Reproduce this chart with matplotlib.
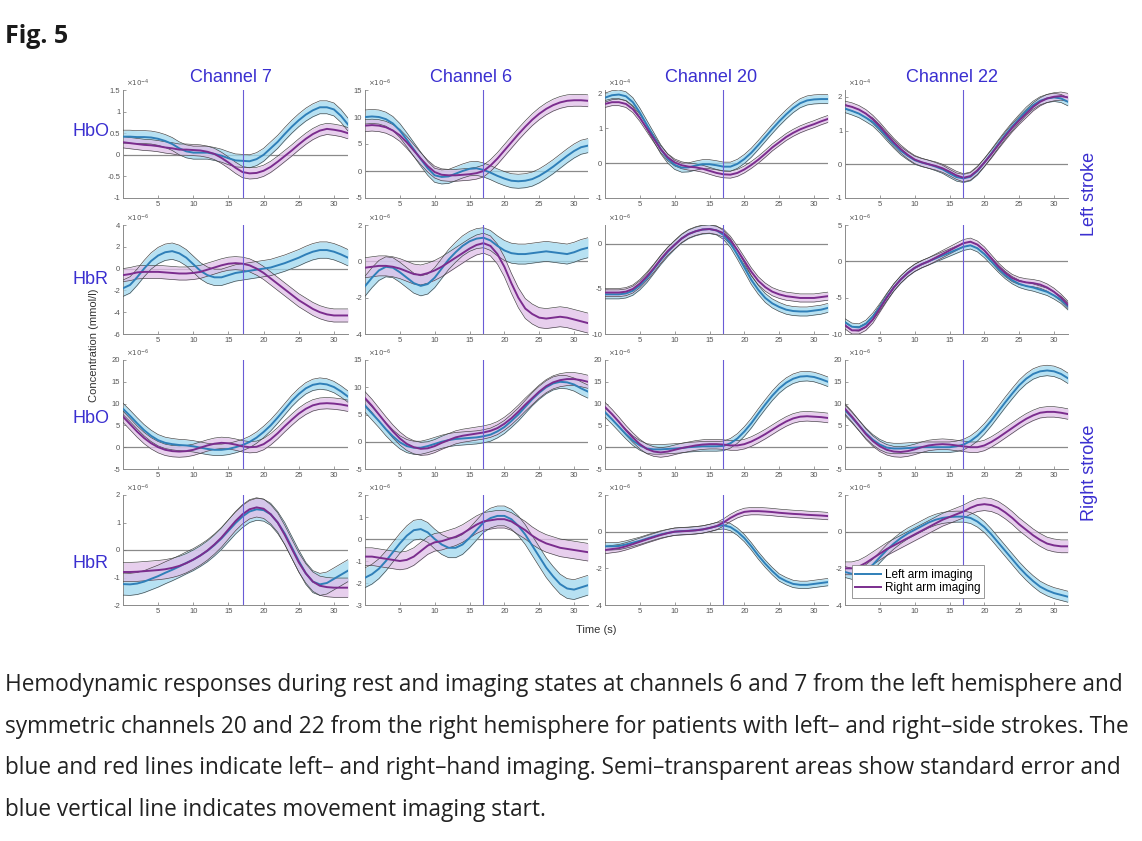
import matplotlib
matplotlib.use("Agg")
import matplotlib.pyplot as plt
import numpy as np

plt.rcParams["font.family"] = ["Liberation Sans", "DejaVu Sans"]
plt.rcParams["axes.unicode_minus"] = False

# time axis (s)
TIME = [0, 1, 2, 3, 4, 5, 6, 7, 8, 9, 10, 11, 12, 13, 14, 15, 16,
        17, 18, 19, 20, 21, 22, 23, 24, 25, 26, 27, 28, 29, 30, 31, 32]

CHANNELS = ["Channel 7", "Channel 6", "Channel 20", "Channel 22"]
ROW_LABELS = ["HbO", "HbR", "HbO", "HbR"]
LEGEND_LABELS = ["Left arm imaging", "Right arm imaging"]
ONSET = 17

# ---- left stroke, HbO (x1e-4 / x1e-6) ----
ls_hbo_ch7_left = [0.42, 0.42, 0.41, 0.41, 0.40, 0.37, 0.32, 0.25, 0.15, 0.08, 0.05, 0.05, 0.05, 0.02, -0.02, -0.08, -0.13,
                   -0.14, -0.15, -0.10, 0.00, 0.15, 0.30, 0.48, 0.65, 0.80, 0.93, 1.03, 1.10, 1.10, 1.05, 0.90, 0.70]
ls_hbo_ch7_right = [0.29, 0.27, 0.25, 0.23, 0.22, 0.20, 0.17, 0.15, 0.12, 0.12, 0.11, 0.10, 0.07, 0.02, -0.07, -0.18, -0.30,
                    -0.40, -0.43, -0.42, -0.37, -0.28, -0.16, -0.03, 0.10, 0.24, 0.37, 0.48, 0.56, 0.60, 0.58, 0.55, 0.50]
ls_hbo_ch6_left = [10.0, 10.1, 10.0, 9.6, 8.8, 7.5, 5.8, 4.0, 2.2, 0.5, -0.8, -1.1, -1.0, -0.5, 0.0, 0.4, 0.5,
                   0.2, -0.3, -0.9, -1.4, -1.8, -1.9, -1.8, -1.5, -0.9, -0.1, 0.8, 1.8, 2.8, 3.7, 4.4, 4.7]
ls_hbo_ch6_right = [8.4, 8.5, 8.4, 8.1, 7.5, 6.6, 5.3, 3.8, 2.3, 0.9, -0.2, -0.7, -0.8, -0.8, -0.7, -0.6, -0.4,
                    0.0, 1.0, 2.3, 3.8, 5.3, 6.8, 8.2, 9.5, 10.6, 11.5, 12.2, 12.7, 13.0, 13.1, 13.1, 13.0]
ls_hbo_ch20_left = [1.88, 1.95, 1.97, 1.92, 1.75, 1.45, 1.10, 0.75, 0.40, 0.13, -0.05, -0.13, -0.12, -0.07, -0.03, -0.03, -0.06,
                    -0.10, -0.10, -0.02, 0.12, 0.30, 0.52, 0.75, 0.98, 1.20, 1.40, 1.58, 1.72, 1.80, 1.83, 1.84, 1.84]
ls_hbo_ch20_right = [1.70, 1.75, 1.75, 1.70, 1.55, 1.30, 1.00, 0.70, 0.40, 0.17, 0.02, -0.06, -0.10, -0.12, -0.16, -0.22, -0.28,
                     -0.32, -0.33, -0.28, -0.18, -0.05, 0.10, 0.27, 0.45, 0.60, 0.75, 0.87, 0.97, 1.05, 1.12, 1.20, 1.27]
ls_hbo_ch22_left = [1.65, 1.58, 1.50, 1.38, 1.25, 1.05, 0.82, 0.60, 0.40, 0.25, 0.12, 0.05, 0.00, -0.07, -0.15, -0.27, -0.38,
                    -0.42, -0.37, -0.20, 0.05, 0.32, 0.60, 0.87, 1.12, 1.35, 1.57, 1.75, 1.88, 1.95, 1.98, 1.95, 1.85]
ls_hbo_ch22_right = [1.75, 1.70, 1.62, 1.50, 1.33, 1.12, 0.88, 0.65, 0.45, 0.28, 0.14, 0.06, 0.00, -0.05, -0.12, -0.22, -0.33,
                     -0.40, -0.35, -0.18, 0.05, 0.30, 0.57, 0.83, 1.08, 1.30, 1.50, 1.70, 1.85, 1.95, 2.00, 2.02, 1.98]

# ---- left stroke, HbR (x1e-6) ----
ls_hbr_ch7_left = [-1.8, -1.5, -0.8, 0.0, 0.7, 1.2, 1.5, 1.6, 1.4, 1.0, 0.4, -0.2, -0.6, -0.8, -0.8, -0.6, -0.4,
                   -0.3, -0.2, -0.1, 0.0, 0.1, 0.3, 0.5, 0.75, 1.0, 1.3, 1.55, 1.7, 1.7, 1.55, 1.3, 1.0]
ls_hbr_ch7_right = [-0.6, -0.5, -0.35, -0.3, -0.3, -0.3, -0.35, -0.4, -0.45, -0.45, -0.4, -0.3, -0.1, 0.1, 0.3, 0.45, 0.5,
                    0.45, 0.3, 0.0, -0.4, -0.9, -1.4, -1.9, -2.4, -2.9, -3.3, -3.7, -4.0, -4.2, -4.3, -4.3, -4.3]
ls_hbr_ch6_left = [-1.37, -0.9, -0.5, -0.3, -0.35, -0.6, -0.9, -1.2, -1.35, -1.25, -0.9, -0.4, 0.1, 0.5, 0.85, 1.1, 1.25,
                   1.3, 1.15, 0.85, 0.6, 0.45, 0.4, 0.4, 0.45, 0.5, 0.55, 0.5, 0.45, 0.4, 0.5, 0.65, 0.75]
ls_hbr_ch6_right = [-0.35, -0.3, -0.25, -0.25, -0.3, -0.4, -0.55, -0.7, -0.75, -0.65, -0.5, -0.3, -0.05, 0.2, 0.45, 0.7, 0.9,
                    1.0, 0.85, 0.4, -0.3, -1.2, -2.0, -2.6, -2.9, -3.1, -3.15, -3.1, -3.05, -3.1, -3.2, -3.3, -3.4]
ls_hbr_ch20_left = [-5.6, -5.6, -5.6, -5.5, -5.2, -4.6, -3.8, -2.8, -1.8, -0.9, -0.1, 0.6, 1.1, 1.4, 1.6, 1.65, 1.5,
                    1.0, 0.1, -1.2, -2.6, -4.0, -5.1, -6.0, -6.6, -7.0, -7.3, -7.45, -7.5, -7.5, -7.4, -7.3, -7.1]
ls_hbr_ch20_right = [-5.4, -5.4, -5.4, -5.3, -5.0, -4.4, -3.6, -2.7, -1.7, -0.8, -0.1, 0.6, 1.1, 1.4, 1.6, 1.65, 1.5,
                     1.2, 0.4, -0.7, -1.9, -3.1, -4.1, -4.8, -5.3, -5.6, -5.8, -5.9, -6.0, -6.0, -6.0, -5.9, -5.8]
ls_hbr_ch22_left = [-8.4, -9.0, -9.1, -8.6, -7.6, -6.3, -4.9, -3.6, -2.5, -1.6, -0.9, -0.4, 0.0, 0.4, 0.8, 1.2, 1.6,
                    2.0, 2.2, 1.8, 1.0, 0.0, -1.0, -1.9, -2.6, -3.1, -3.4, -3.6, -3.9, -4.2, -4.7, -5.3, -6.2]
ls_hbr_ch22_right = [-8.8, -9.5, -9.5, -9.0, -8.0, -6.5, -5.0, -3.6, -2.5, -1.6, -0.9, -0.4, 0.0, 0.5, 1.0, 1.5, 2.0,
                     2.5, 2.7, 2.3, 1.5, 0.4, -0.7, -1.6, -2.3, -2.7, -2.9, -3.0, -3.2, -3.6, -4.2, -5.0, -6.0]

# ---- right stroke, HbO (x1e-6) ----
rs_hbo_ch7_left = [8.8, 7.2, 5.5, 3.9, 2.6, 1.6, 1.0, 0.7, 0.5, 0.4, 0.2, -0.1, -0.4, -0.6, -0.6, -0.4, 0.0,
                   0.5, 1.2, 2.2, 3.5, 5.0, 6.8, 8.7, 10.6, 12.2, 13.5, 14.3, 14.6, 14.4, 13.8, 12.8, 11.6]
rs_hbo_ch7_right = [7.0, 5.3, 3.6, 2.1, 0.9, 0.0, -0.6, -0.9, -1.0, -0.9, -0.6, -0.1, 0.4, 0.8, 1.0, 0.9, 0.6,
                    0.2, 0.0, 0.1, 0.7, 1.8, 3.2, 4.8, 6.3, 7.7, 8.8, 9.6, 10.0, 10.1, 10.0, 9.8, 9.5]
rs_hbo_ch6_left = [6.6, 5.2, 3.8, 2.3, 1.0, -0.1, -0.8, -1.1, -1.1, -0.8, -0.4, 0.0, 0.3, 0.5, 0.6, 0.7, 0.8,
                   1.0, 1.3, 1.9, 2.7, 3.8, 5.0, 6.4, 7.8, 9.0, 10.0, 10.7, 11.0, 10.9, 10.5, 9.8, 9.2]
rs_hbo_ch6_right = [8.0, 6.6, 5.0, 3.4, 1.9, 0.6, -0.4, -1.0, -1.3, -1.2, -0.8, -0.2, 0.3, 0.8, 1.1, 1.3, 1.5,
                    1.7, 2.0, 2.5, 3.3, 4.3, 5.5, 6.8, 8.0, 9.2, 10.2, 10.9, 11.3, 11.5, 11.5, 11.3, 11.0]
rs_hbo_ch20_left = [8.0, 6.4, 4.7, 3.0, 1.5, 0.4, -0.3, -0.5, -0.5, -0.4, -0.3, -0.2, 0.0, 0.1, 0.2, 0.2, 0.2,
                    0.3, 0.9, 2.0, 3.6, 5.5, 7.7, 9.8, 11.8, 13.5, 14.8, 15.7, 16.2, 16.3, 16.1, 15.6, 15.0]
rs_hbo_ch20_right = [9.2, 7.6, 5.8, 3.9, 2.2, 0.7, -0.4, -1.0, -1.2, -1.0, -0.6, -0.2, 0.1, 0.4, 0.6, 0.7, 0.7,
                     0.6, 0.4, 0.4, 0.7, 1.3, 2.1, 3.0, 4.0, 5.0, 5.9, 6.6, 7.0, 7.1, 7.0, 6.9, 6.7]
rs_hbo_ch22_left = [8.5, 6.8, 5.0, 3.2, 1.7, 0.6, -0.1, -0.3, -0.3, -0.2, -0.1, 0.0, 0.0, 0.0, 0.0, 0.0, 0.2,
                    0.6, 1.4, 2.6, 4.2, 6.1, 8.2, 10.3, 12.3, 14.2, 15.7, 16.8, 17.4, 17.6, 17.4, 16.8, 15.8]
rs_hbo_ch22_right = [8.8, 7.0, 5.0, 3.0, 1.4, 0.2, -0.6, -1.0, -1.1, -0.9, -0.5, 0.0, 0.4, 0.6, 0.7, 0.6, 0.4,
                     0.2, 0.0, 0.0, 0.4, 1.2, 2.2, 3.3, 4.4, 5.5, 6.5, 7.3, 7.9, 8.1, 8.1, 7.9, 7.6]

# ---- right stroke, HbR (x1e-6) ----
rs_hbr_ch7_left = [-1.24, -1.25, -1.22, -1.15, -1.05, -0.95, -0.83, -0.72, -0.6, -0.47, -0.35, -0.2, -0.03, 0.18, 0.42, 0.7, 0.98,
                   1.22, 1.4, 1.48, 1.45, 1.3, 1.0, 0.6, 0.1, -0.4, -0.85, -1.15, -1.25, -1.2, -1.05, -0.9, -0.75]
rs_hbr_ch7_right = [-0.8, -0.8, -0.79, -0.77, -0.75, -0.73, -0.7, -0.65, -0.58, -0.48, -0.35, -0.2, -0.02, 0.2, 0.45, 0.75, 1.05,
                    1.3, 1.48, 1.55, 1.5, 1.3, 1.0, 0.55, 0.05, -0.45, -0.85, -1.15, -1.3, -1.35, -1.37, -1.37, -1.37]
rs_hbr_ch6_left = [-1.76, -1.6, -1.35, -1.0, -0.6, -0.2, 0.15, 0.4, 0.45, 0.3, 0.0, -0.25, -0.4, -0.4, -0.25, 0.05, 0.4,
                   0.75, 0.95, 1.05, 1.05, 0.9, 0.6, 0.2, -0.3, -0.8, -1.3, -1.7, -2.05, -2.25, -2.3, -2.2, -2.1]
rs_hbr_ch6_right = [-0.8, -0.8, -0.85, -0.9, -0.95, -1.0, -0.95, -0.8, -0.55, -0.3, -0.15, -0.1, 0.0, 0.1, 0.25, 0.45, 0.65,
                    0.8, 0.85, 0.9, 0.9, 0.8, 0.6, 0.4, 0.15, -0.05, -0.2, -0.3, -0.4, -0.45, -0.5, -0.55, -0.6]
rs_hbr_ch20_left = [-0.8, -0.8, -0.78, -0.7, -0.6, -0.5, -0.38, -0.26, -0.15, -0.07, 0.0, 0.03, 0.05, 0.08, 0.12, 0.2, 0.3,
                    0.35, 0.25, 0.0, -0.35, -0.8, -1.3, -1.75, -2.15, -2.5, -2.7, -2.85, -2.9, -2.9, -2.85, -2.8, -2.75]
rs_hbr_ch20_right = [-1.0, -0.95, -0.9, -0.8, -0.68, -0.55, -0.42, -0.3, -0.18, -0.08, 0.0, 0.02, 0.04, 0.07, 0.12, 0.2, 0.3,
                     0.5, 0.75, 0.95, 1.08, 1.12, 1.12, 1.1, 1.07, 1.03, 1.0, 0.97, 0.95, 0.92, 0.9, 0.88, 0.85]
rs_hbr_ch22_left = [-2.2, -2.3, -2.3, -2.1, -1.8, -1.4, -1.0, -0.65, -0.35, -0.1, 0.1, 0.3, 0.5, 0.65, 0.75, 0.8, 0.82,
                    0.82, 0.75, 0.55, 0.25, -0.15, -0.6, -1.05, -1.5, -1.95, -2.35, -2.7, -3.0, -3.2, -3.35, -3.45, -3.55]
rs_hbr_ch22_right = [-2.0, -2.0, -1.9, -1.7, -1.45, -1.2, -0.95, -0.75, -0.55, -0.35, -0.15, 0.05, 0.25, 0.45, 0.65, 0.8, 0.95,
                     1.1, 1.3, 1.45, 1.5, 1.45, 1.3, 1.05, 0.75, 0.4, 0.1, -0.2, -0.45, -0.65, -0.75, -0.8, -0.8]

# standard error (left arm, right arm) per panel, row by row
SE = [[(0.15, 0.13), (1.3, 1.1), (0.13, 0.10), (0.12, 0.12)],
      [(0.75, 0.60), (0.55, 0.55), (0.50, 0.45), (0.50, 0.50)],
      [(1.3, 1.3), (1.2, 1.2), (1.1, 1.1), (1.2, 1.2)],
      [(0.40, 0.35), (0.45, 0.40), (0.20, 0.20), (0.30, 0.35)]]

# y axis per panel: (ymin, ymax, ticks, exponent)
YAXES = [[(-1, 1.5, [-1, -0.5, 0, 0.5, 1, 1.5], -4), (-5, 15, [-5, 0, 5, 10, 15], -6),
          (-1, 2.1, [-1, 0, 1, 2], -4), (-1, 2.2, [-1, 0, 1, 2], -4)],
         [(-6, 4, [-6, -4, -2, 0, 2, 4], -6), (-4, 2, [-4, -2, 0, 2], -6),
          (-10, 2.1, [-10, -5, 0], -6), (-10, 5, [-10, -5, 0, 5], -6)],
         [(-5, 20, [-5, 0, 5, 10, 15, 20], -6), (-5, 15, [-5, 0, 5, 10, 15], -6),
          (-5, 20, [-5, 0, 5, 10, 15, 20], -6), (-5, 20, [-5, 0, 5, 10, 15, 20], -6)],
         [(-2, 2, [-2, -1, 0, 1, 2], -6), (-3, 2, [-3, -2, -1, 0, 1, 2], -6),
          (-4, 2, [-4, -2, 0, 2], -6), (-4, 2, [-4, -2, 0, 2], -6)]]

PANELS = [[(ls_hbo_ch7_left, ls_hbo_ch7_right), (ls_hbo_ch6_left, ls_hbo_ch6_right),
           (ls_hbo_ch20_left, ls_hbo_ch20_right), (ls_hbo_ch22_left, ls_hbo_ch22_right)],
          [(ls_hbr_ch7_left, ls_hbr_ch7_right), (ls_hbr_ch6_left, ls_hbr_ch6_right),
           (ls_hbr_ch20_left, ls_hbr_ch20_right), (ls_hbr_ch22_left, ls_hbr_ch22_right)],
          [(rs_hbo_ch7_left, rs_hbo_ch7_right), (rs_hbo_ch6_left, rs_hbo_ch6_right),
           (rs_hbo_ch20_left, rs_hbo_ch20_right), (rs_hbo_ch22_left, rs_hbo_ch22_right)],
          [(rs_hbr_ch7_left, rs_hbr_ch7_right), (rs_hbr_ch6_left, rs_hbr_ch6_right),
           (rs_hbr_ch20_left, rs_hbr_ch20_right), (rs_hbr_ch22_left, rs_hbr_ch22_right)]]

CAPTION = [
    "Hemodynamic responses during rest and imaging states at channels 6 and 7 from the left hemisphere and",
    "symmetric channels 20 and 22 from the right hemisphere for patients with left\u2013 and right\u2013side strokes. The",
    "blue and red lines indicate left\u2013 and right\u2013hand imaging. Semi\u2013transparent areas show standard error and",
    "blue vertical line indicates movement imaging start.",
]

LINE_COLORS = ["#2f7fb8", "#7b2d8e"]
BAND_COLORS = ["#9fd8ee", "#e0bfe8"]
LABEL_BLUE = "#3a2fd0"
TICK_GRAY = "#555555"

W, H = 1142, 841
fig = plt.figure(figsize=(W / 100, H / 100), dpi=100)

col_px = [(123, 348), (365, 588), (605, 828), (845, 1068)]
row_px = [(90, 198), (225, 334), (360, 469), (495, 605)]


def px_axes(xs, ys):
    return fig.add_axes([xs[0] / W, 1 - ys[1] / H, (xs[1] - xs[0]) / W, (ys[1] - ys[0]) / H])


handles = []
for r in range(4):
    for c in range(4):
        ax = px_axes(col_px[c], row_px[r])
        ymin, ymax, yticks, expo = YAXES[r][c]
        ax.axhline(0, color="#8a8a8a", lw=0.9, zorder=1)
        for k in range(2):
            m = np.array(PANELS[r][c][k])
            se = SE[r][c][k]
            ax.fill_between(TIME, m - se, m + se, color=BAND_COLORS[k], alpha=0.75, lw=0, zorder=2)
            ax.plot(TIME, m - se, color="#404040", lw=0.45, zorder=3)
            ax.plot(TIME, m + se, color="#404040", lw=0.45, zorder=3)
            ln, = ax.plot(TIME, m, color=LINE_COLORS[k], lw=1.4, zorder=4, label=LEGEND_LABELS[k])
            if r == 3 and c == 3:
                handles.append(ln)
        ax.axvline(ONSET, color="#6a5cd6", lw=0.8, zorder=5)
        ax.set_xlim(0, 32)
        ax.set_ylim(ymin, ymax)
        ax.set_xticks([5, 10, 15, 20, 25, 30])
        ax.set_yticks(yticks)
        ax.set_yticklabels(["%g" % v for v in yticks])
        ax.tick_params(direction="in", length=2, width=0.5, colors="#777777",
                       labelcolor=TICK_GRAY, labelsize=5.5, pad=2)
        for s in ["top", "right"]:
            ax.spines[s].set_visible(False)
        for s in ["left", "bottom"]:
            ax.spines[s].set_color("#8a8a8a")
            ax.spines[s].set_linewidth(0.7)
        ax.patch.set_alpha(0)
        ax.text(0.015, 1.005, r"$\times10^{%d}$" % expo, transform=ax.transAxes,
                fontsize=5, color=TICK_GRAY, va="bottom", ha="left")
        if r == 3 and c == 3:
            leg = ax.legend(handles=handles, loc="lower left", bbox_to_anchor=(0.031, 0.064),
                            borderaxespad=0, fontsize=8.5, handlelength=2.2, handletextpad=0.3,
                            borderpad=0.3, labelspacing=0.15, fancybox=False, framealpha=1)
            leg.get_frame().set_edgecolor("#888888")
            leg.get_frame().set_linewidth(0.6)

# channel titles
for c, name in enumerate(CHANNELS):
    xc = (col_px[c][0] + col_px[c][1]) / 2 - 5
    fig.text(xc / W, 1 - 77 / H, name, fontsize=13, color=LABEL_BLUE, ha="center", va="center")

# row labels
for r, (lab, yc) in enumerate(zip(ROW_LABELS, [132, 279, 419, 563])):
    fig.text(73 / W, 1 - yc / H, lab, fontsize=13, color=LABEL_BLUE, ha="left", va="center")

fig.text(1090 / W, 1 - 194 / H, "Left stroke", fontsize=13, color=LABEL_BLUE,
         rotation=90, ha="center", va="center")
fig.text(1090 / W, 1 - 473 / H, "Right stroke", fontsize=13, color=LABEL_BLUE,
         rotation=90, ha="center", va="center")
fig.text(94 / W, 1 - 345 / H, "Concentration (mmol/l)", fontsize=8, color="#333333",
         rotation=90, ha="center", va="center")
fig.text(596 / W, 1 - 630 / H, "Time (s)", fontsize=8, color="#333333", ha="center", va="center")

fig.text(5 / W, 1 - 43 / H, "Fig. 5", fontsize=18, fontweight="bold", family="Open Sans",
         color="#1a1a1a", ha="left", va="baseline")

# caption, sized so the first line spans the same width as in the page
caps = []
for i, line in enumerate(CAPTION):
    caps.append(fig.text(5 / W, 1 - (685 + 41.7 * i) / H, line, fontsize=16, family="Open Sans",
                         color="#222222", ha="left", va="center"))
renderer = fig.canvas.get_renderer()
w0 = caps[0].get_window_extent(renderer).width
size = 16 * 1120 / w0
for t in caps:
    t.set_fontsize(size)

fig.savefig("out.png", dpi=100)
